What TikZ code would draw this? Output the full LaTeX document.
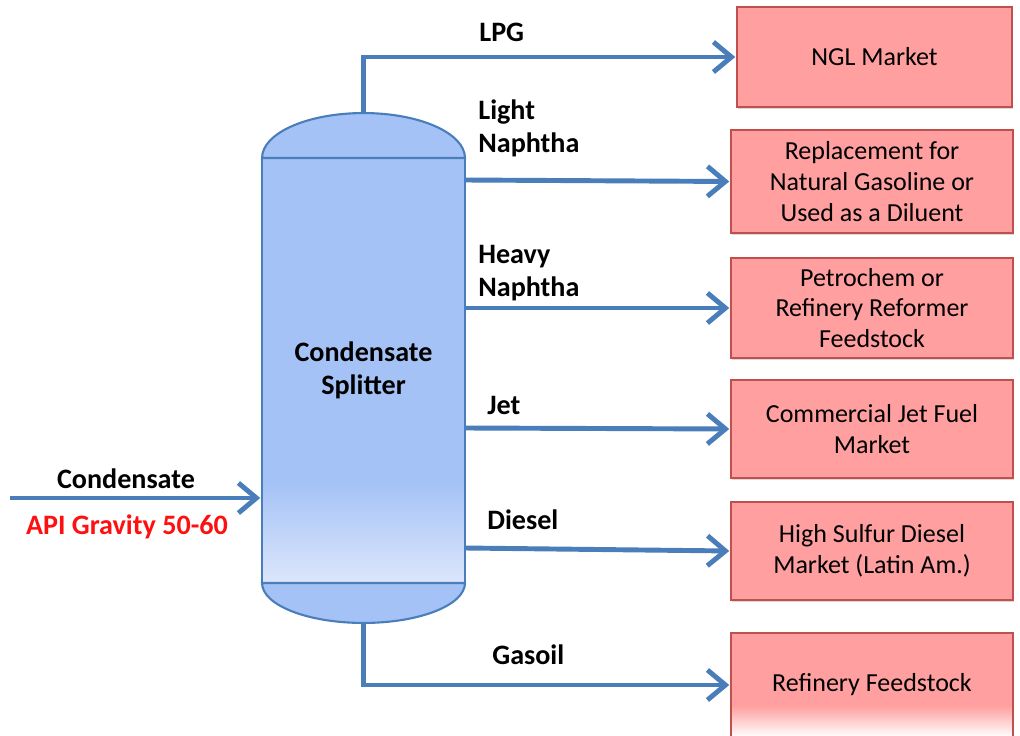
\documentclass[tikz,border=0pt]{standalone}
\usepackage{fontspec}
\setmainfont{Carlito}
\usetikzlibrary{arrows.meta,calc,shadows}
\definecolor{pipeblue}{HTML}{4A7EBB}
\definecolor{colblue}{HTML}{A4C2F6}
\definecolor{collight}{HTML}{DCE6FB}
\definecolor{boxred}{HTML}{FF9F9F}
\definecolor{boxline}{HTML}{C0504D}
\definecolor{apired}{HTML}{FF1010}
\pgfdeclareverticalshading{splitfade}{100bp}{color(0bp)=(collight); color(25bp)=(collight); color(37bp)=(colblue); color(100bp)=(colblue)}
\pgfdeclareverticalshading{feedfade}{100bp}{color(0bp)=(white); color(25bp)=(white); color(40bp)=(boxred); color(100bp)=(boxred)}
\newcommand\boxfont{\fontsize{14.8}{17.6}\selectfont}
\newcommand\labelfont{\fontsize{16}{18.7}\selectfont\bfseries}
\tikzset{
  pipe/.style={draw=pipeblue, line width=2.8pt, -{Straight Barb[length=3.6mm,width=6mm]}, shorten >=1pt},
  market/.style={draw=boxline, line width=1pt, fill=boxred, minimum width=5.64cm, minimum height=2cm,
    align=center, font=\boxfont, outer sep=0pt, drop shadow={opacity=0.3, shadow xshift=0.8pt, shadow yshift=-1.2pt}},
  column/.style={draw=pipeblue, line width=1.2pt, shade, shading=splitfade, minimum width=4.06cm, minimum height=8.5cm,
    align=center, font=\labelfont, inner sep=0pt, outer sep=0pt},
  dome/.style={draw=pipeblue, line width=1.2pt, fill=colblue},
  lbl/.style={font=\labelfont, align=left, inner sep=0pt}
}
\begin{document}
\begin{tikzpicture}[x=0.02cm, y=0.02cm]
	\useasboundingbox (0,0) rectangle (1020,735);
	
	% splitter column
	\node[column, drop shadow={opacity=0.3, shadow xshift=0.8pt, shadow yshift=-1.2pt}] (splitter) at (363.5,364.5) {Condensate\\Splitter};
	\draw[dome] (splitter.north west) arc[start angle=180, end angle=0, x radius=2.03cm, y radius=0.9cm] -- cycle;
	\draw[dome] (splitter.south west) arc[start angle=180, end angle=360, x radius=2.03cm, y radius=0.8cm] -- cycle;
	\coordinate (lpgtop) at ($(splitter.north)+(0,0.9cm)$);
	\coordinate (gasbot) at ($(splitter.south)+(0,-0.8cm)$);
	\coordinate (feedin) at (10,237);
	
	% markets
	\node[market, minimum width=5.5cm] (ngl) at (874.5,678) {NGL Market};
	\node[market, minimum height=2.06cm] (gasoline) at (872,553.5) {Replacement for\\Natural Gasoline or\\Used as a Diluent};
	\node[market] (petro) at (872,427) {Petrochem or\\Refinery Reformer\\Feedstock};
	\node[market, minimum height=1.96cm] (jetfuel) at (872,306) {Commercial Jet Fuel\\Market};
	\node[market, minimum height=1.96cm] (diesel) at (872,184) {High Sulfur Diesel\\Market (Latin Am.)};
	\node[market, minimum height=2.08cm, fill=none, shade, shading=feedfade, drop shadow={opacity=0}] (refinery) at (872,50) {Refinery Feedstock};
	
	% streams
	\draw[pipe] (feedin) -- (splitter.west |- feedin);
	\draw[pipe] (lpgtop) |- (ngl.west);
	\draw[pipe] (splitter.east |- 0,555) -- (gasoline.west);
	\draw[pipe] (splitter.east |- 0,427) -- (petro.west);
	\draw[pipe] (splitter.east |- 0,307) -- (jetfuel.west);
	\draw[pipe] (splitter.east |- 0,187) -- (diesel.west);
	\draw[pipe] (gasbot) |- (refinery.west);
	
	% labels
	\node[lbl, anchor=west] (lpg) at (479,703) {LPG};
	\node[lbl, anchor=west] (lnaph) at (478,607) {Light\\Naphtha};
	\node[lbl, anchor=west] (hnaph) at (478,462) {Heavy\\Naphtha};
	\node[lbl, anchor=west] (jet) at (487,330) {Jet};
	\node[lbl, anchor=west] (dsl) at (487,215) {Diesel};
	\node[lbl, anchor=west] (gsl) at (492,80) {Gasoil};
	\node[lbl] (feed) at (126,256) {Condensate};
	\node[lbl, text=apired] (api) at (127,208) {API Gravity 50-60};
\end{tikzpicture}
\end{document}
